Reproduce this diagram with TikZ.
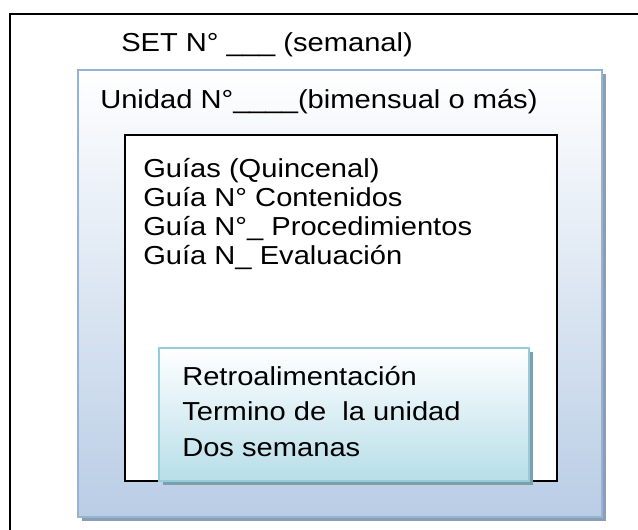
\documentclass[tikz,border=0pt]{standalone}
\usepackage{fontspec}
\setmainfont{Liberation Sans}
\usetikzlibrary{shadows}
\definecolor{blueline}{HTML}{95B3D7}
\definecolor{bluefill}{HTML}{B9CDE5}
\definecolor{blueshade}{HTML}{8E9EB2}
\definecolor{cyanline}{HTML}{93CDDD}
\definecolor{cyanfill}{HTML}{B7DEE8}
\definecolor{cyanshade}{HTML}{7F9EA8}
\newcommand{\wide}[1]{\scalebox{1.12}[1]{#1}}
\tikzset{
  txt/.style={anchor=base west,inner sep=0pt,font=\fontsize{19.5}{23}\selectfont},
  setbox/.style={draw=black,line width=1.3pt,inner sep=0pt},
  unitbox/.style={draw=blueline,line width=1.4pt,inner sep=0pt,top color=white,bottom color=bluefill,
    drop shadow={shadow xshift=3pt,shadow yshift=-3pt,fill=blueshade,opacity=1}},
  guidebox/.style={draw=black,fill=white,line width=1.5pt,inner sep=0pt},
  backbox/.style={draw=cyanline,line width=1.4pt,inner sep=0pt,top color=white,bottom color=cyanfill,
    drop shadow={shadow xshift=3pt,shadow yshift=-3pt,fill=cyanshade,opacity=1}}
}
\begin{document}
\begin{tikzpicture}[x=0.75pt,y=-0.75pt]
        \useasboundingbox (0,0) rectangle (638,530);
        \clip (0,0) rectangle (638,530);
        \fill[white] (0,0) rectangle (638,530);
        \draw (330,279.5) node[setbox,minimum width=480pt,minimum height=398.25pt] (set) {};
        \draw (121,52) node[txt] (settxt) {\wide{SET N° \_\_\_ (semanal)}};
        \draw (340,293.5) node[unitbox,minimum width=393pt,minimum height=335.25pt] (unidad) {};
        \draw (100,109) node[txt] (unidadtxt) {\wide{Unidad N°\_\_\_\_(bimensual o más)}};
        \draw (341,308) node[guidebox,minimum width=324pt,minimum height=259.5pt] (guias) {};
        \draw (143,178) node[txt] (g1) {\wide{Guías (Quincenal)}}
        +(0,28.8) node[txt] (g2) {\wide{Guía N° Contenidos}}
        +(0,57.6) node[txt] (g3) {\wide{Guía N°\_ Procedimientos}}
        +(0,86.4) node[txt] (g4) {\wide{Guía N\_ Evaluación}};
        \draw (344,414.5) node[backbox,minimum width=277.5pt,minimum height=99.75pt] (retro) {};
        \draw (182,385) node[txt] (r1) {\wide{Retroalimentación}}
        +(0,35.5) node[txt] (r2) {\wide{Termino de\ \ la unidad}}
        +(0,71) node[txt] (r3) {\wide{Dos semanas}};
\end{tikzpicture}
\end{document}
